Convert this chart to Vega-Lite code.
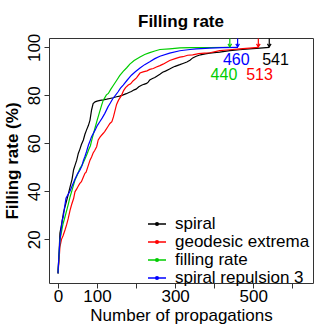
{
  "$schema": "https://vega.github.io/schema/vega-lite/v6.json",
  "width": 264,
  "height": 245,
  "autosize": {"type": "none"},
  "padding": {"left": 49, "top": 38, "right": 19, "bottom": 49},
  "background": "white",
  "config": {
    "font": "Liberation Sans",
    "view": {"stroke": "#333", "strokeWidth": 1},
    "axis": {"domain": false, "grid": false, "tickColor": "#333", "tickSize": 5, "labelColor": "#000", "titleColor": "#000", "labelFontSize": 17, "titleFontSize": 17, "labelFont": "Liberation Sans", "titleFont": "Liberation Sans"}
  },
  "title": {"text": "Filling rate", "fontSize": 17, "fontWeight": "bold", "font": "Liberation Sans", "color": "#000", "offset": 2},
  "datasets": {
    "curves": [
      {"method": "spiral", "x": 0, "y": 5.8},
      {"method": "spiral", "x": 3, "y": 15},
      {"method": "spiral", "x": 5, "y": 22.6},
      {"method": "spiral", "x": 10, "y": 27},
      {"method": "spiral", "x": 14, "y": 31},
      {"method": "spiral", "x": 18, "y": 33.6},
      {"method": "spiral", "x": 22, "y": 36},
      {"method": "spiral", "x": 26, "y": 38.5},
      {"method": "spiral", "x": 31, "y": 41.9},
      {"method": "spiral", "x": 36, "y": 45},
      {"method": "spiral", "x": 40, "y": 49},
      {"method": "spiral", "x": 44, "y": 51},
      {"method": "spiral", "x": 48, "y": 53},
      {"method": "spiral", "x": 52, "y": 55.8},
      {"method": "spiral", "x": 56, "y": 57.5},
      {"method": "spiral", "x": 60, "y": 59.5},
      {"method": "spiral", "x": 65, "y": 61.4},
      {"method": "spiral", "x": 69, "y": 63.8},
      {"method": "spiral", "x": 73, "y": 65.5},
      {"method": "spiral", "x": 78, "y": 67.5},
      {"method": "spiral", "x": 82, "y": 69.7},
      {"method": "spiral", "x": 86, "y": 73.9},
      {"method": "spiral", "x": 90, "y": 76.6},
      {"method": "spiral", "x": 95, "y": 77.3},
      {"method": "spiral", "x": 100, "y": 77.6},
      {"method": "spiral", "x": 108, "y": 77.9},
      {"method": "spiral", "x": 116, "y": 78.1},
      {"method": "spiral", "x": 125, "y": 78.4},
      {"method": "spiral", "x": 133, "y": 78.7},
      {"method": "spiral", "x": 141, "y": 79},
      {"method": "spiral", "x": 150, "y": 79.4},
      {"method": "spiral", "x": 158, "y": 79.7},
      {"method": "spiral", "x": 167, "y": 80.2},
      {"method": "spiral", "x": 175, "y": 80.7},
      {"method": "spiral", "x": 183, "y": 81.3},
      {"method": "spiral", "x": 188, "y": 81.6},
      {"method": "spiral", "x": 195, "y": 82.3},
      {"method": "spiral", "x": 200, "y": 82.6},
      {"method": "spiral", "x": 207, "y": 83.6},
      {"method": "spiral", "x": 214, "y": 84.2},
      {"method": "spiral", "x": 220, "y": 84.6},
      {"method": "spiral", "x": 227, "y": 85},
      {"method": "spiral", "x": 231, "y": 85.5},
      {"method": "spiral", "x": 235, "y": 86.4},
      {"method": "spiral", "x": 242, "y": 87},
      {"method": "spiral", "x": 248, "y": 87.4},
      {"method": "spiral", "x": 255, "y": 88.2},
      {"method": "spiral", "x": 261, "y": 88.8},
      {"method": "spiral", "x": 268, "y": 89.6},
      {"method": "spiral", "x": 275, "y": 90.1},
      {"method": "spiral", "x": 286, "y": 91},
      {"method": "spiral", "x": 293, "y": 91.6},
      {"method": "spiral", "x": 300, "y": 92.1},
      {"method": "spiral", "x": 312, "y": 92.8},
      {"method": "spiral", "x": 320, "y": 93.3},
      {"method": "spiral", "x": 330, "y": 93.9},
      {"method": "spiral", "x": 338, "y": 94.6},
      {"method": "spiral", "x": 345, "y": 95.6},
      {"method": "spiral", "x": 354, "y": 96.3},
      {"method": "spiral", "x": 365, "y": 96.9},
      {"method": "spiral", "x": 377, "y": 97.3},
      {"method": "spiral", "x": 389, "y": 97.6},
      {"method": "spiral", "x": 400, "y": 97.8},
      {"method": "spiral", "x": 414, "y": 98},
      {"method": "spiral", "x": 440, "y": 98.6},
      {"method": "spiral", "x": 465, "y": 99},
      {"method": "spiral", "x": 490, "y": 99.4},
      {"method": "spiral", "x": 517, "y": 99.7},
      {"method": "spiral", "x": 541, "y": 100},
      {"method": "geodesic extrema", "x": 0, "y": 5.8},
      {"method": "geodesic extrema", "x": 3, "y": 12},
      {"method": "geodesic extrema", "x": 5, "y": 16.9},
      {"method": "geodesic extrema", "x": 9, "y": 20},
      {"method": "geodesic extrema", "x": 13, "y": 21.5},
      {"method": "geodesic extrema", "x": 18, "y": 23.9},
      {"method": "geodesic extrema", "x": 22, "y": 26},
      {"method": "geodesic extrema", "x": 26, "y": 28.5},
      {"method": "geodesic extrema", "x": 31, "y": 32.2},
      {"method": "geodesic extrema", "x": 35, "y": 34.5},
      {"method": "geodesic extrema", "x": 40, "y": 37},
      {"method": "geodesic extrema", "x": 43.5, "y": 39.8},
      {"method": "geodesic extrema", "x": 48, "y": 41},
      {"method": "geodesic extrema", "x": 52, "y": 42.2},
      {"method": "geodesic extrema", "x": 56, "y": 43.3},
      {"method": "geodesic extrema", "x": 60, "y": 44},
      {"method": "geodesic extrema", "x": 65, "y": 46},
      {"method": "geodesic extrema", "x": 69, "y": 47.5},
      {"method": "geodesic extrema", "x": 72, "y": 48},
      {"method": "geodesic extrema", "x": 76, "y": 50},
      {"method": "geodesic extrema", "x": 82, "y": 53},
      {"method": "geodesic extrema", "x": 86, "y": 54.3},
      {"method": "geodesic extrema", "x": 90, "y": 56},
      {"method": "geodesic extrema", "x": 94, "y": 57},
      {"method": "geodesic extrema", "x": 99, "y": 58.6},
      {"method": "geodesic extrema", "x": 103, "y": 61.4},
      {"method": "geodesic extrema", "x": 108, "y": 62.7},
      {"method": "geodesic extrema", "x": 116, "y": 64.2},
      {"method": "geodesic extrema", "x": 120, "y": 65},
      {"method": "geodesic extrema", "x": 128, "y": 67},
      {"method": "geodesic extrema", "x": 133, "y": 68.3},
      {"method": "geodesic extrema", "x": 138, "y": 69},
      {"method": "geodesic extrema", "x": 142, "y": 71},
      {"method": "geodesic extrema", "x": 150, "y": 76.2},
      {"method": "geodesic extrema", "x": 155, "y": 78},
      {"method": "geodesic extrema", "x": 163, "y": 80.1},
      {"method": "geodesic extrema", "x": 168, "y": 82},
      {"method": "geodesic extrema", "x": 173, "y": 83.2},
      {"method": "geodesic extrema", "x": 180, "y": 84.3},
      {"method": "geodesic extrema", "x": 186, "y": 84.8},
      {"method": "geodesic extrema", "x": 192, "y": 86},
      {"method": "geodesic extrema", "x": 201, "y": 87.3},
      {"method": "geodesic extrema", "x": 210, "y": 89.3},
      {"method": "geodesic extrema", "x": 218, "y": 89.8},
      {"method": "geodesic extrema", "x": 228, "y": 90.2},
      {"method": "geodesic extrema", "x": 235, "y": 90.8},
      {"method": "geodesic extrema", "x": 244, "y": 91.2},
      {"method": "geodesic extrema", "x": 252, "y": 91.8},
      {"method": "geodesic extrema", "x": 261, "y": 92.4},
      {"method": "geodesic extrema", "x": 269, "y": 93},
      {"method": "geodesic extrema", "x": 278, "y": 93.8},
      {"method": "geodesic extrema", "x": 286, "y": 94.5},
      {"method": "geodesic extrema", "x": 300, "y": 95.3},
      {"method": "geodesic extrema", "x": 312, "y": 95.9},
      {"method": "geodesic extrema", "x": 320, "y": 96.1},
      {"method": "geodesic extrema", "x": 332, "y": 96.7},
      {"method": "geodesic extrema", "x": 345, "y": 96.9},
      {"method": "geodesic extrema", "x": 360, "y": 97.4},
      {"method": "geodesic extrema", "x": 375, "y": 97.6},
      {"method": "geodesic extrema", "x": 389, "y": 97.75},
      {"method": "geodesic extrema", "x": 414, "y": 98.6},
      {"method": "geodesic extrema", "x": 440, "y": 99},
      {"method": "geodesic extrema", "x": 465, "y": 99.4},
      {"method": "geodesic extrema", "x": 490, "y": 99.7},
      {"method": "geodesic extrema", "x": 513, "y": 100},
      {"method": "filling rate", "x": 0, "y": 5.8},
      {"method": "filling rate", "x": 3, "y": 14},
      {"method": "filling rate", "x": 5, "y": 19.7},
      {"method": "filling rate", "x": 10, "y": 24},
      {"method": "filling rate", "x": 13, "y": 26.5},
      {"method": "filling rate", "x": 18, "y": 29.4},
      {"method": "filling rate", "x": 23, "y": 32.5},
      {"method": "filling rate", "x": 27, "y": 35},
      {"method": "filling rate", "x": 31, "y": 37.75},
      {"method": "filling rate", "x": 37, "y": 41},
      {"method": "filling rate", "x": 43.5, "y": 44.7},
      {"method": "filling rate", "x": 50, "y": 47},
      {"method": "filling rate", "x": 56, "y": 49.5},
      {"method": "filling rate", "x": 62, "y": 51},
      {"method": "filling rate", "x": 69, "y": 53.5},
      {"method": "filling rate", "x": 75, "y": 55.8},
      {"method": "filling rate", "x": 79, "y": 57.5},
      {"method": "filling rate", "x": 83, "y": 59},
      {"method": "filling rate", "x": 86, "y": 61},
      {"method": "filling rate", "x": 90, "y": 63.5},
      {"method": "filling rate", "x": 95, "y": 66.5},
      {"method": "filling rate", "x": 100, "y": 69.5},
      {"method": "filling rate", "x": 107, "y": 73.3},
      {"method": "filling rate", "x": 112, "y": 76},
      {"method": "filling rate", "x": 116, "y": 78},
      {"method": "filling rate", "x": 124, "y": 80.2},
      {"method": "filling rate", "x": 129, "y": 80.8},
      {"method": "filling rate", "x": 135, "y": 82.5},
      {"method": "filling rate", "x": 142, "y": 84.2},
      {"method": "filling rate", "x": 150, "y": 86.2},
      {"method": "filling rate", "x": 158, "y": 88.2},
      {"method": "filling rate", "x": 167, "y": 90},
      {"method": "filling rate", "x": 176, "y": 91.5},
      {"method": "filling rate", "x": 184, "y": 93},
      {"method": "filling rate", "x": 195, "y": 94.5},
      {"method": "filling rate", "x": 210, "y": 96},
      {"method": "filling rate", "x": 222, "y": 97},
      {"method": "filling rate", "x": 235, "y": 97.8},
      {"method": "filling rate", "x": 248, "y": 98.5},
      {"method": "filling rate", "x": 261, "y": 99.1},
      {"method": "filling rate", "x": 286, "y": 99.4},
      {"method": "filling rate", "x": 312, "y": 99.75},
      {"method": "filling rate", "x": 338, "y": 99.85},
      {"method": "filling rate", "x": 389, "y": 99.95},
      {"method": "filling rate", "x": 440, "y": 100},
      {"method": "spiral repulsion 3", "x": 0, "y": 5.8},
      {"method": "spiral repulsion 3", "x": 2, "y": 12},
      {"method": "spiral repulsion 3", "x": 5, "y": 19.7},
      {"method": "spiral repulsion 3", "x": 8, "y": 24},
      {"method": "spiral repulsion 3", "x": 11, "y": 28},
      {"method": "spiral repulsion 3", "x": 13.6, "y": 29.4},
      {"method": "spiral repulsion 3", "x": 17, "y": 33.5},
      {"method": "spiral repulsion 3", "x": 20.5, "y": 37.1},
      {"method": "spiral repulsion 3", "x": 25, "y": 38.5},
      {"method": "spiral repulsion 3", "x": 30.7, "y": 40},
      {"method": "spiral repulsion 3", "x": 37, "y": 42.5},
      {"method": "spiral repulsion 3", "x": 43.5, "y": 45},
      {"method": "spiral repulsion 3", "x": 50, "y": 47.3},
      {"method": "spiral repulsion 3", "x": 56, "y": 48.8},
      {"method": "spiral repulsion 3", "x": 61, "y": 50.5},
      {"method": "spiral repulsion 3", "x": 65, "y": 52.8},
      {"method": "spiral repulsion 3", "x": 69, "y": 54.5},
      {"method": "spiral repulsion 3", "x": 73, "y": 56.5},
      {"method": "spiral repulsion 3", "x": 78, "y": 59.3},
      {"method": "spiral repulsion 3", "x": 82, "y": 61},
      {"method": "spiral repulsion 3", "x": 86, "y": 62.8},
      {"method": "spiral repulsion 3", "x": 95, "y": 65.5},
      {"method": "spiral repulsion 3", "x": 101, "y": 67.5},
      {"method": "spiral repulsion 3", "x": 107, "y": 69},
      {"method": "spiral repulsion 3", "x": 113, "y": 70.5},
      {"method": "spiral repulsion 3", "x": 120, "y": 72.5},
      {"method": "spiral repulsion 3", "x": 128, "y": 75.2},
      {"method": "spiral repulsion 3", "x": 134, "y": 76.8},
      {"method": "spiral repulsion 3", "x": 141, "y": 78.8},
      {"method": "spiral repulsion 3", "x": 147, "y": 80},
      {"method": "spiral repulsion 3", "x": 154, "y": 81.5},
      {"method": "spiral repulsion 3", "x": 160, "y": 83},
      {"method": "spiral repulsion 3", "x": 167, "y": 84.3},
      {"method": "spiral repulsion 3", "x": 178, "y": 86.5},
      {"method": "spiral repulsion 3", "x": 188, "y": 88.4},
      {"method": "spiral repulsion 3", "x": 198, "y": 89.8},
      {"method": "spiral repulsion 3", "x": 210, "y": 91.4},
      {"method": "spiral repulsion 3", "x": 222, "y": 92.8},
      {"method": "spiral repulsion 3", "x": 235, "y": 94},
      {"method": "spiral repulsion 3", "x": 248, "y": 95.3},
      {"method": "spiral repulsion 3", "x": 261, "y": 96.3},
      {"method": "spiral repulsion 3", "x": 286, "y": 97.6},
      {"method": "spiral repulsion 3", "x": 312, "y": 98.6},
      {"method": "spiral repulsion 3", "x": 338, "y": 99.1},
      {"method": "spiral repulsion 3", "x": 354, "y": 99.4},
      {"method": "spiral repulsion 3", "x": 389, "y": 99.7},
      {"method": "spiral repulsion 3", "x": 420, "y": 99.9},
      {"method": "spiral repulsion 3", "x": 461, "y": 100}
    ],
    "ends": [
      {"method": "spiral", "n": 541, "top": 103.7, "tip": 100.2, "lx": 557, "ly": 92.5},
      {"method": "geodesic extrema", "n": 513, "top": 103.7, "tip": 100.2, "lx": 516, "ly": 86.5},
      {"method": "filling rate", "n": 440, "top": 103.7, "tip": 100.2, "lx": 425, "ly": 86.5},
      {"method": "spiral repulsion 3", "n": 460, "top": 103.7, "tip": 100.2, "lx": 456.5, "ly": 92.5}
    ]
  },
  "resolve": {"scale": {"color": "independent"}, "legend": {"color": "independent"}},
  "layer": [
    {
      "data": {"name": "curves"},
      "mark": {"type": "line", "strokeWidth": 1.2, "clip": true},
      "encoding": {
        "x": {"field": "x", "type": "quantitative", "scale": {"domain": [-23, 653], "nice": false, "zero": false},
              "axis": {"values": [0, 100, 200, 300, 400, 500, 600], "labelExpr": "datum.value == 200 || datum.value == 400 || datum.value == 600 ? '' : datum.label", "labelPadding": 0, "title": "Number of propagations", "titleFontWeight": "normal", "titlePadding": 3, "labelFlush": false, "labelOverlap": false}},
        "y": {"field": "y", "type": "quantitative", "scale": {"domain": [1.8, 103.9], "nice": false, "zero": false},
              "axis": {"values": [20, 40, 60, 80, 100], "labelAngle": -90, "labelPadding": 1, "title": "Filling rate (%)", "titleFontWeight": "bold", "titlePadding": 4, "labelFlush": false, "labelOverlap": false}},
        "color": {"field": "method", "type": "nominal",
                  "scale": {"domain": ["spiral", "geodesic extrema", "filling rate", "spiral repulsion 3"], "range": ["#000000", "#FF0000", "#00CD00", "#0000FF"]},
                  "legend": {"title": null, "orient": "none", "legendX": 98, "legendY": 176, "labelFontSize": 17, "labelFont": "Liberation Sans", "labelColor": "#000", "labelOffset": 8, "rowPadding": 0, "symbolSize": 324, "symbolStrokeWidth": 1.5, "symbolType": "M-1,0L1,0M0.15,0A0.15,0.15,0,1,1,-0.15,0A0.15,0.15,0,1,1,0.15,0"}},
        "order": {"field": "x", "type": "quantitative"}
      }
    },
    {
      "data": {"name": "ends"},
      "mark": {"type": "rule", "strokeWidth": 1.2},
      "encoding": {
        "x": {"field": "n", "type": "quantitative"},
        "y": {"field": "top", "type": "quantitative"},
        "y2": {"field": "tip"},
        "color": {"field": "method", "type": "nominal", "legend": null,
                  "scale": {"domain": ["spiral", "geodesic extrema", "filling rate", "spiral repulsion 3"], "range": ["#000000", "#FF0000", "#00CD00", "#0000FF"]}}
      }
    },
    {
      "data": {"name": "ends"},
      "mark": {"type": "point", "shape": "M-0.6,-1L0,0L0.6,-1", "size": 36, "filled": false, "strokeWidth": 1.2, "opacity": 1},
      "encoding": {
        "x": {"field": "n", "type": "quantitative"},
        "y": {"field": "tip", "type": "quantitative"},
        "color": {"field": "method", "type": "nominal", "legend": null,
                  "scale": {"domain": ["spiral", "geodesic extrema", "filling rate", "spiral repulsion 3"], "range": ["#000000", "#FF0000", "#00CD00", "#0000FF"]}}
      }
    },
    {
      "data": {"name": "ends"},
      "mark": {"type": "text", "fontSize": 16, "font": "Liberation Sans", "baseline": "alphabetic", "align": "center"},
      "encoding": {
        "x": {"field": "lx", "type": "quantitative"},
        "y": {"field": "ly", "type": "quantitative"},
        "text": {"field": "n", "type": "quantitative"},
        "color": {"field": "method", "type": "nominal", "legend": null,
                  "scale": {"domain": ["spiral", "geodesic extrema", "filling rate", "spiral repulsion 3"], "range": ["#000000", "#FF0000", "#00CD00", "#0000FF"]}}
      }
    }
  ]
}
